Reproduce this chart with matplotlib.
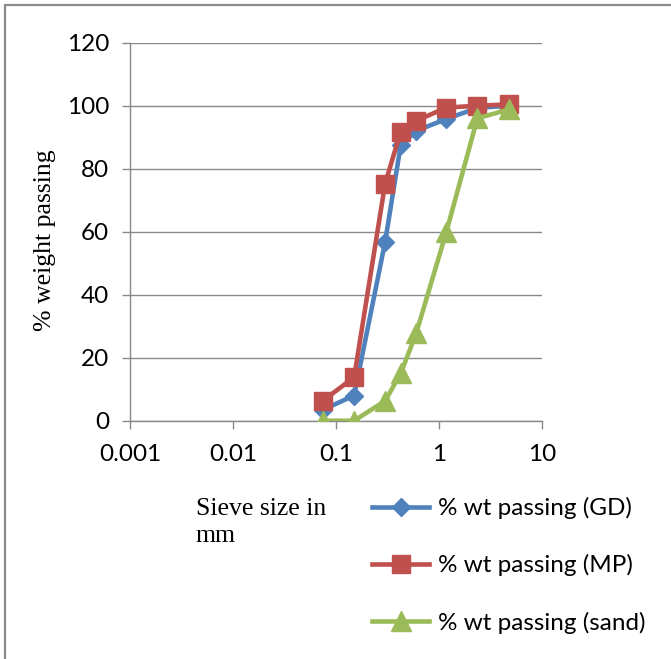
import matplotlib

matplotlib.use("Agg")
import matplotlib.pyplot as plt
from matplotlib.patches import Rectangle
from matplotlib.ticker import FixedLocator, FixedFormatter, NullLocator

# sieve openings (mm) and cumulative % passing for each material
sieve_mm = [0.075, 0.15, 0.3, 0.425, 0.6, 1.18, 2.36, 4.75]
pass_gd = [3.5, 8, 56.8, 87.5, 92, 95.8, 99.3, 100]
pass_mp = [6.4, 13.8, 75.3, 91.8, 95.2, 99.4, 100, 100.4]
pass_sand = [0, 0, 6.3, 15, 27.7, 60, 96, 98.8]

x_ticks = [0.001, 0.01, 0.1, 1, 10]
x_tick_labels = ["0.001", "0.01", "0.1", "1", "10"]
y_ticks = [0, 20, 40, 60, 80, 100, 120]

BLUE = "#4f81bd"
RED = "#c0504d"
GREEN = "#9bbb59"
GRID = "#898989"

plt.rcParams["font.family"] = ["Lato", "DejaVu Sans"]
serif = ["Liberation Serif", "DejaVu Serif"]

fig = plt.figure(figsize=(6.71, 6.59), dpi=100)
ax = fig.add_axes([130 / 671, 1 - 420.7 / 659, 412 / 671, 378 / 659])

ax.plot(sieve_mm, pass_gd, color=BLUE, lw=3.3, marker="D", ms=9,
        mfc=BLUE, mec=BLUE, label="% wt passing (GD)", zorder=3)
ax.plot(sieve_mm, pass_mp, color=RED, lw=3.3, marker="s", ms=13.5,
        mfc=RED, mec=RED, label="% wt passing (MP)", zorder=4)
ax.plot(sieve_mm, pass_sand, color=GREEN, lw=3.3, marker="^", ms=14,
        mfc=GREEN, mec=GREEN, label="% wt passing (sand)", zorder=5)

ax.set_xscale("log")
ax.set_xlim(0.001, 10)
ax.set_ylim(0, 120)
ax.xaxis.set_major_locator(FixedLocator(x_ticks))
ax.xaxis.set_major_formatter(FixedFormatter(x_tick_labels))
ax.xaxis.set_minor_locator(NullLocator())
ax.set_yticks(y_ticks)

ax.yaxis.grid(True, color=GRID, lw=1.0)
ax.set_axisbelow(True)
for side in ("top", "right"):
    ax.spines[side].set_visible(False)
for side in ("left", "bottom"):
    ax.spines[side].set_color(GRID)
    ax.spines[side].set_linewidth(1.0)
ax.tick_params(axis="both", direction="out", length=6, width=1.0,
               color=GRID, labelsize=17.5, labelcolor="black")
ax.tick_params(axis="x", pad=11)
ax.tick_params(axis="y", pad=9)

fig.text(45 / 671, 1 - 240 / 659, "% weight passing", rotation=90,
         ha="center", va="center", fontsize=18.5, family=serif)
fig.text(196 / 671, 1 - 498 / 659, "Sieve size in\nmm", ha="left", va="top",
         fontsize=18.5, family=serif, linespacing=1.27)

fig.legend(loc="upper left", bbox_to_anchor=(372 / 671, 1 - 497 / 659),
           frameon=False, fontsize=17.5, numpoints=1, handlelength=2.35,
           handletextpad=0.35, labelspacing=1.45, borderpad=0, borderaxespad=0)

# frame around the chart area (left and top edges fall inside the canvas)
fig.patches.append(Rectangle((5 / 671, -0.2), 1.5, 1.2 - 5 / 659, fill=False,
                             ec="#8a8a8a", lw=1.6, transform=fig.transFigure))

fig.savefig("out.png", dpi=100)
